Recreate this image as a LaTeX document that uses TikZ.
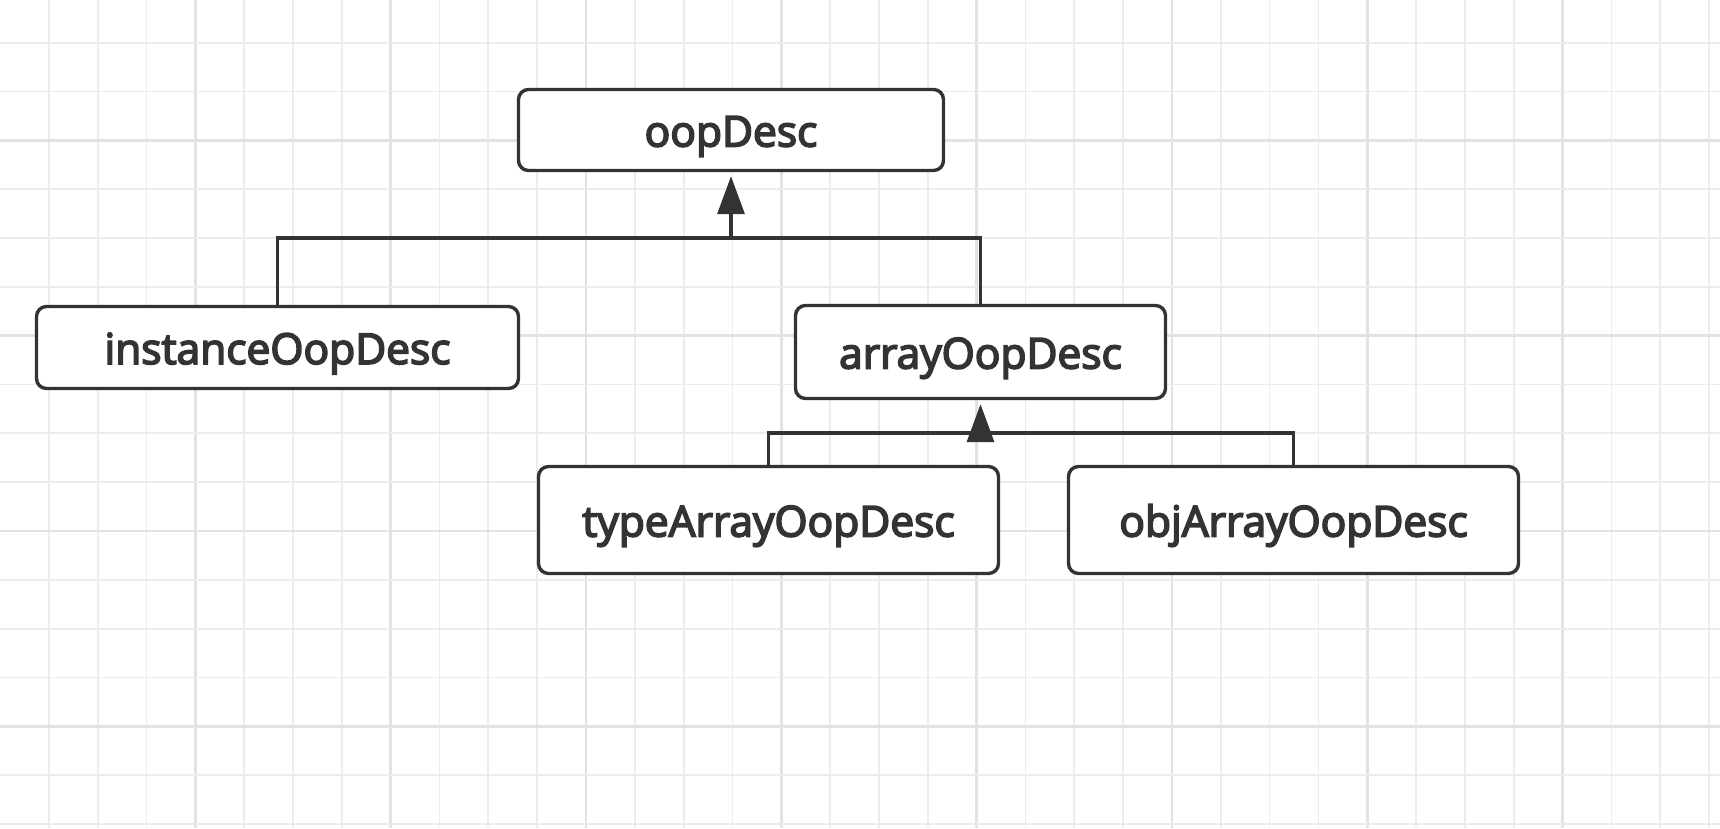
\documentclass[tikz,border=0pt]{standalone}
\usepackage{fontspec}
\setmainfont{Open Sans}
\newfontfamily\boxfont{Open Sans}[FakeBold=4]
\usetikzlibrary{arrows.meta}
\definecolor{ink}{RGB}{51,51,51}
\definecolor{gridminor}{RGB}{236,236,236}
\definecolor{gridmajor}{RGB}{226,226,226}
\tikzset{
  umlbox/.style={draw=ink, line width=3.4pt, rounded corners=10pt, fill=white,
    text=ink, font=\boxfont\fontsize{42.5}{50}\selectfont, inner sep=0pt,
    text height=33pt, text depth=0pt, align=center},
  link/.style={draw=ink, line width=3.4pt},
  inherit/.style={link, -{Triangle[length=38pt,width=27pt]}, shorten >=4pt}
}
\begin{document}
\begin{tikzpicture}[x=1pt,y=-1pt]
\useasboundingbox[fill=white] (0,0) rectangle (1720,828);
% grid
\foreach \k in {1,...,35}{
  \pgfmathsetmacro{\gx}{\k*48.83}
  \pgfmathtruncatemacro{\m}{mod(\k,4)}
  \ifnum\m=0
    \draw[gridmajor, line width=2.6pt] (\gx,0) -- (\gx,828);
  \else
    \draw[gridminor, line width=1.8pt] (\gx,0) -- (\gx,828);
  \fi
}
\foreach \k in {-2,...,14}{
  \pgfmathsetmacro{\gy}{140.4+\k*48.83}
  \pgfmathtruncatemacro{\m}{mod(\k+8,4)}
  \ifnum\m=0
    \draw[gridmajor, line width=2.6pt] (0,\gy) -- (1720,\gy);
  \else
    \draw[gridminor, line width=1.8pt] (0,\gy) -- (1720,\gy);
  \fi
}
% nodes
\node[umlbox, minimum width=425pt, minimum height=81pt] (oop) at (731,130) {oopDesc};
\node[umlbox, minimum width=482pt, minimum height=82pt] (inst) at (277.5,347.5) {instanceOopDesc};
\node[umlbox, minimum width=370pt, minimum height=93pt] (arr) at (980.5,352) {arrayOopDesc};
\node[umlbox, minimum width=460pt, minimum height=107pt] (ta) at (768.5,520) {typeArrayOopDesc};
\node[umlbox, minimum width=450pt, minimum height=107pt] (oa) at (1293.5,520) {objArrayOopDesc};
% connectors
\coordinate (j1) at (oop.south |- 0,238);
\coordinate (j2) at (arr.south |- 0,433);
\coordinate (j2b) at (arr.south |- 0,441);
\draw[link] (inst.north) |- (j1) -| (arr.north);
\draw[inherit] (j1) -- (oop.south);
\draw[link] (ta.north) |- (j2) -| (oa.north);
\draw[inherit] (j2b) -- (arr.south);
\end{tikzpicture}
\end{document}
